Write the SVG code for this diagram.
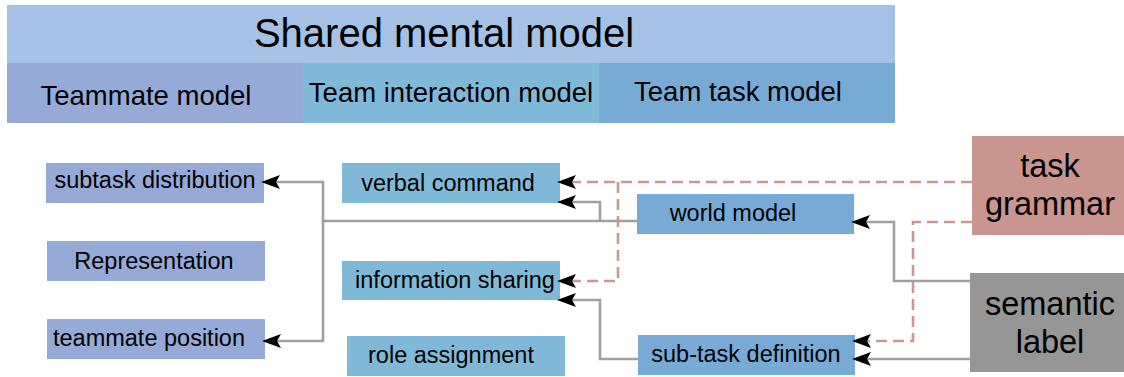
<svg xmlns="http://www.w3.org/2000/svg" width="1124" height="377" viewBox="0 0 1124 377">
<style>
text{font-family:"Liberation Sans",Arial,sans-serif;fill:#000}
.big{font-size:40px}
.row{font-size:27.5px}
.sm{font-size:23.5px}
.side{font-size:32.5px}
.solid{fill:none;stroke:#a0a0a0;stroke-width:2.6}
.dash{fill:none;stroke:#c99891;stroke-width:2.6;stroke-dasharray:11 6}
.c1{fill:#95aad6}
.c2{fill:#80b9d8}
.c3{fill:#78aad6}
</style>
<defs>
<marker id="arr" markerUnits="userSpaceOnUse" viewBox="0 0 19 14" refX="9" refY="7" markerWidth="19" markerHeight="14" orient="auto">
<path d="M0,0 L19,7 L0,14 L4,7 z" fill="#000"/>
</marker>
</defs>
<g id="header">
<rect x="7" y="5" width="888" height="58" fill="#a5c1e6"/>
<text class="big" x="444" y="47" text-anchor="middle">Shared mental model</text>
</g>
<g id="teammate-model">
<rect class="c1" x="7" y="63" width="296" height="60"/>
<text class="row" x="146" y="105" text-anchor="middle">Teammate model</text>
</g>
<g id="team-interaction-model">
<rect class="c2" x="303" y="63" width="296" height="60"/>
<text class="row" x="451" y="102" text-anchor="middle">Team interaction model</text>
</g>
<g id="team-task-model">
<rect class="c3" x="599" y="63" width="296" height="60"/>
<text class="row" x="738" y="101" text-anchor="middle">Team task model</text>
</g>
<g id="subtask-distribution">
<rect class="c1" x="46" y="163" width="218" height="40"/>
<text class="sm" x="155" y="188" text-anchor="middle">subtask distribution</text>
</g>
<g id="representation">
<rect class="c1" x="47" y="241" width="218" height="40"/>
<text class="sm" x="154" y="269" text-anchor="middle">Representation</text>
</g>
<g id="teammate-position">
<rect class="c1" x="47" y="319" width="218" height="40"/>
<text class="sm" x="149" y="346" text-anchor="middle">teammate position</text>
</g>
<g id="verbal-command">
<rect class="c2" x="342" y="163" width="218" height="40"/>
<text class="sm" x="448" y="191" text-anchor="middle">verbal command</text>
</g>
<g id="information-sharing">
<rect class="c2" x="342" y="261" width="218" height="39"/>
<text class="sm" x="455" y="288" text-anchor="middle">information sharing</text>
</g>
<g id="role-assignment">
<rect class="c2" x="347" y="336" width="218" height="40"/>
<text class="sm" x="451" y="363" text-anchor="middle">role assignment</text>
</g>
<g id="world-model">
<rect class="c3" x="637" y="194" width="217" height="40"/>
<text class="sm" x="733" y="221" text-anchor="middle">world model</text>
</g>
<g id="sub-task-definition">
<rect class="c3" x="638" y="335" width="217" height="40"/>
<text class="sm" x="746" y="362" text-anchor="middle">sub-task definition</text>
</g>
<g id="task-grammar">
<rect x="972" y="136" width="152" height="99" fill="#c8958f"/>
<text class="side" x="1050" y="177" text-anchor="middle">task</text>
<text class="side" x="1050" y="215" text-anchor="middle">grammar</text>
</g>
<g id="semantic-label">
<rect x="970" y="273" width="154" height="99" fill="#969696"/>
<text class="side" x="1050" y="315" text-anchor="middle">semantic</text>
<text class="side" x="1050" y="353" text-anchor="middle">label</text>
</g>
<g id="connectors">
<path class="solid" d="M637,221 H323 V182 H271" marker-end="url(#arr)"/>
<path class="solid" d="M323,221 V341 H272" marker-end="url(#arr)"/>
<path class="solid" d="M600,221 V202 H567" marker-end="url(#arr)"/>
<path class="solid" d="M970,281 H894 V222 H861" marker-end="url(#arr)"/>
<path class="solid" d="M970,359 H862" marker-end="url(#arr)"/>
<path class="solid" d="M638,359 H600 V300 H567" marker-end="url(#arr)"/>
<path class="dash" d="M972,182 H567" marker-end="url(#arr)"/>
<path class="dash" d="M618,182 V281 H567" marker-end="url(#arr)"/>
<path class="dash" d="M972,222 H913 V341 H862" marker-end="url(#arr)"/>
</g>
</svg>
